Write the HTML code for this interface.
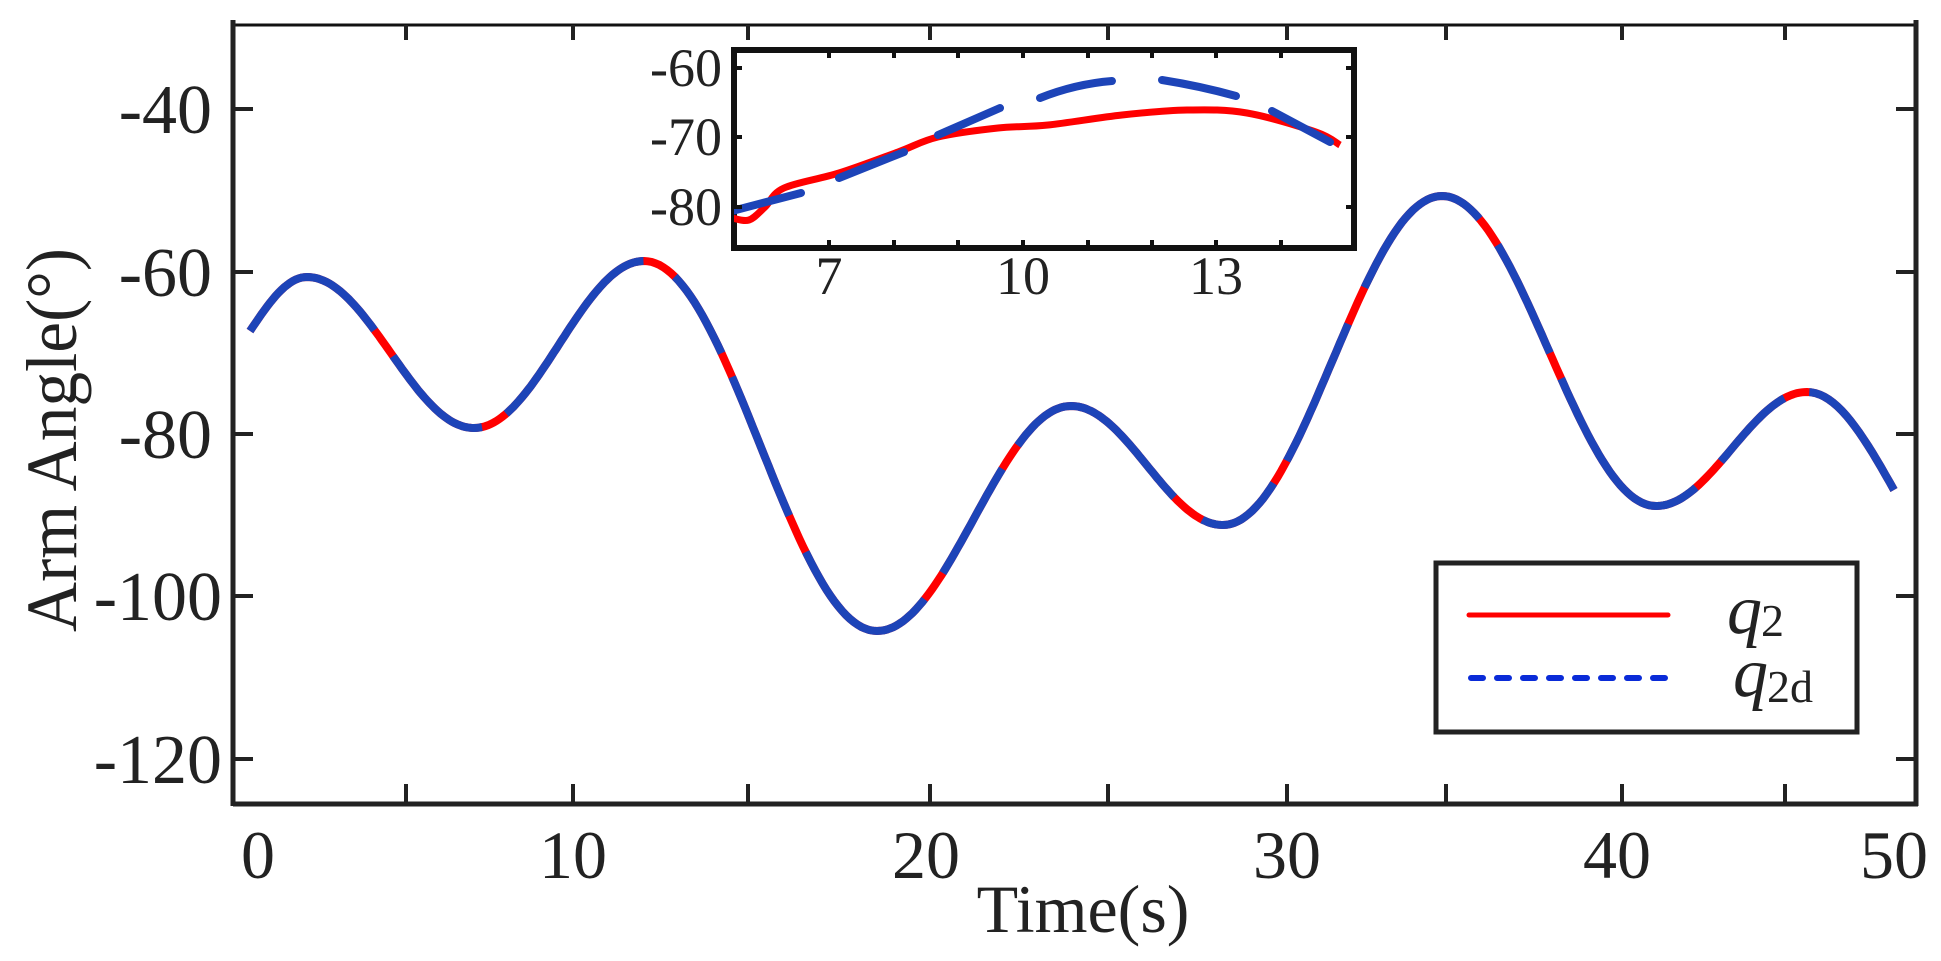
<!DOCTYPE html>
<html><head><meta charset="utf-8"><style>
html,body{margin:0;padding:0;background:#fff;}
svg{display:block;}
text{font-family:"Liberation Serif","Times New Roman",serif;fill:#222;}
</style></head><body>
<svg id="s" width="1941" height="961" viewBox="0 0 1941 961" xmlns="http://www.w3.org/2000/svg">
<defs><clipPath id="ic"><rect x="734" y="52" width="618" height="194"/></clipPath></defs>
<rect x="0" y="0" width="1941" height="961" fill="#fff"/>
<g id="main"></g>
<line x1="233" y1="25" x2="1916" y2="25" stroke="#111" stroke-width="3"/>
<line x1="233" y1="804" x2="1918" y2="804" stroke="#222" stroke-width="5"/>
<line x1="233" y1="20" x2="233" y2="806" stroke="#222" stroke-width="5"/>
<line x1="1916" y1="20" x2="1916" y2="806" stroke="#222" stroke-width="5"/>
<g id="ticks" stroke="#222" stroke-width="4"></g>
<g font-size="70" text-anchor="end">
<text x="212" y="133">-40</text>
<text x="212" y="296">-60</text>
<text x="212" y="458">-80</text>
<text x="222" y="620">-100</text>
<text x="222" y="783">-120</text>
</g>
<g font-size="68" text-anchor="middle">
<text x="258" y="878">0</text>
<text x="573" y="878">10</text>
<text x="926" y="878">20</text>
<text x="1287" y="878">30</text>
<text x="1617" y="878">40</text>
<text x="1894" y="878">50</text>
<text x="1083" y="932">Time(s)</text>
</g>
<text font-size="72" text-anchor="middle" textLength="384" lengthAdjust="spacingAndGlyphs" transform="translate(76,440) rotate(-90)">Arm Angle(°)</text>
<rect x="734" y="50" width="620" height="198" fill="#fff" stroke="#111" stroke-width="6"/>
<g clip-path="url(#ic)" id="inset"></g>
<g id="iticks" stroke="#111" stroke-width="4"></g>
<g font-size="54" text-anchor="end">
<text x="722" y="86">-60</text>
<text x="722" y="155">-70</text>
<text x="722" y="225">-80</text>
</g>
<g font-size="54" text-anchor="middle">
<text x="829" y="294">7</text>
<text x="1023" y="294">10</text>
<text x="1216" y="294">13</text>
</g>
<rect x="1436" y="563" width="421" height="169" fill="#fff" stroke="#222" stroke-width="5"/>
<line x1="1469" y1="615" x2="1668" y2="615" stroke="#ff0000" stroke-width="5" stroke-linecap="round"/>
<line x1="1471" y1="678" x2="1666" y2="678" stroke="#0a2bd8" stroke-width="6" stroke-linecap="round" stroke-dasharray="12 14"/>
<text x="1727" y="633" font-size="70" font-style="italic">q</text>
<text x="1761" y="636" font-size="46">2</text>
<text x="1733" y="696" font-size="70" font-style="italic">q</text>
<text x="1767" y="702" font-size="46">2d</text>
</svg>
<script>
var NS="http://www.w3.org/2000/svg";
function el(p,t,a){var e=document.createElementNS(NS,t);for(var k in a)e.setAttribute(k,a[k]);p.appendChild(e);return e;}
var ex=[[307,277],[474,428],[644,261],[877,631],[1071,406],[1223,525],[1442,196],[1656,506],[1807,392]];
var pts=[];
for(var i=0;i<=20;i++){var t=i/20;pts.push([250+(307-250)*t,277+(331-277)*(1-Math.sin(t*Math.PI/2))]);}
for(var s=0;s<ex.length-1;s++){var a=ex[s],b=ex[s+1];for(var i=1;i<=60;i++){var t=i/60;pts.push([a[0]+(b[0]-a[0])*t,a[1]+(b[1]-a[1])*(1-Math.cos(t*Math.PI))/2]);}}
for(var i=1;i<=20;i++){var t=i/20;pts.push([1807+(1894-1807)*t,392+98*(1-Math.cos(t*Math.PI/2))]);}
var d="M"+pts.map(function(p){return p[0].toFixed(1)+","+p[1].toFixed(1)}).join("L");
var g=document.getElementById("main");
el(g,"path",{d:d,fill:"none",stroke:"#ff0000","stroke-width":8});
el(g,"path",{d:d,fill:"none",stroke:"#1d44b8","stroke-width":8,"stroke-dasharray":"170 32 120 28 210 36 90 26 150 40"});
var tk=document.getElementById("ticks");
[406,573,748,930,1108,1287,1446,1622,1785].forEach(function(x){el(tk,"line",{x1:x,y1:804,x2:x,y2:784});el(tk,"line",{x1:x,y1:25,x2:x,y2:40});});
[109,272,434,596,759].forEach(function(y){el(tk,"line",{x1:233,y1:y,x2:253,y2:y});el(tk,"line",{x1:1916,y1:y,x2:1896,y2:y});});
var ig=document.getElementById("inset");
var rp=[[732,218],[749,220],[765,207],[784,188],[839,173],[898,152],[938,137],[998,128],[1048,125],[1122,115],[1187,110],[1247,113],[1316,132],[1340,145]];
function cr(p){var s="M"+p[0][0]+","+p[0][1];for(var i=0;i<p.length-1;i++){var p0=p[Math.max(0,i-1)],p1=p[i],p2=p[i+1],p3=p[Math.min(p.length-1,i+2)];s+="C"+(p1[0]+(p2[0]-p0[0])/6)+","+(p1[1]+(p2[1]-p0[1])/6)+" "+(p2[0]-(p3[0]-p1[0])/6)+","+(p2[1]-(p3[1]-p1[1])/6)+" "+p2[0]+","+p2[1];}return s;}
el(ig,"path",{d:cr(rp),fill:"none",stroke:"#ff0000","stroke-width":7});
var bs=["M732,211L801,193","M839,178L904,152","M938,135L1000,108","M1040,98Q1075,84 1112,81","M1162,80Q1200,86 1236,96","M1272,111L1330,142"];
bs.forEach(function(s){el(ig,"path",{d:s,fill:"none",stroke:"#1d44b8","stroke-width":8,"stroke-linecap":"round"});});
var it=document.getElementById("iticks");
[829,894,958,1023,1088,1152,1216,1281].forEach(function(x){el(it,"line",{x1:x,y1:248,x2:x,y2:240});el(it,"line",{x1:x,y1:50,x2:x,y2:58});});
[68,137,207].forEach(function(y){el(it,"line",{x1:734,y1:y,x2:742,y2:y});el(it,"line",{x1:1354,y1:y,x2:1346,y2:y});});
</script>
</body></html>
